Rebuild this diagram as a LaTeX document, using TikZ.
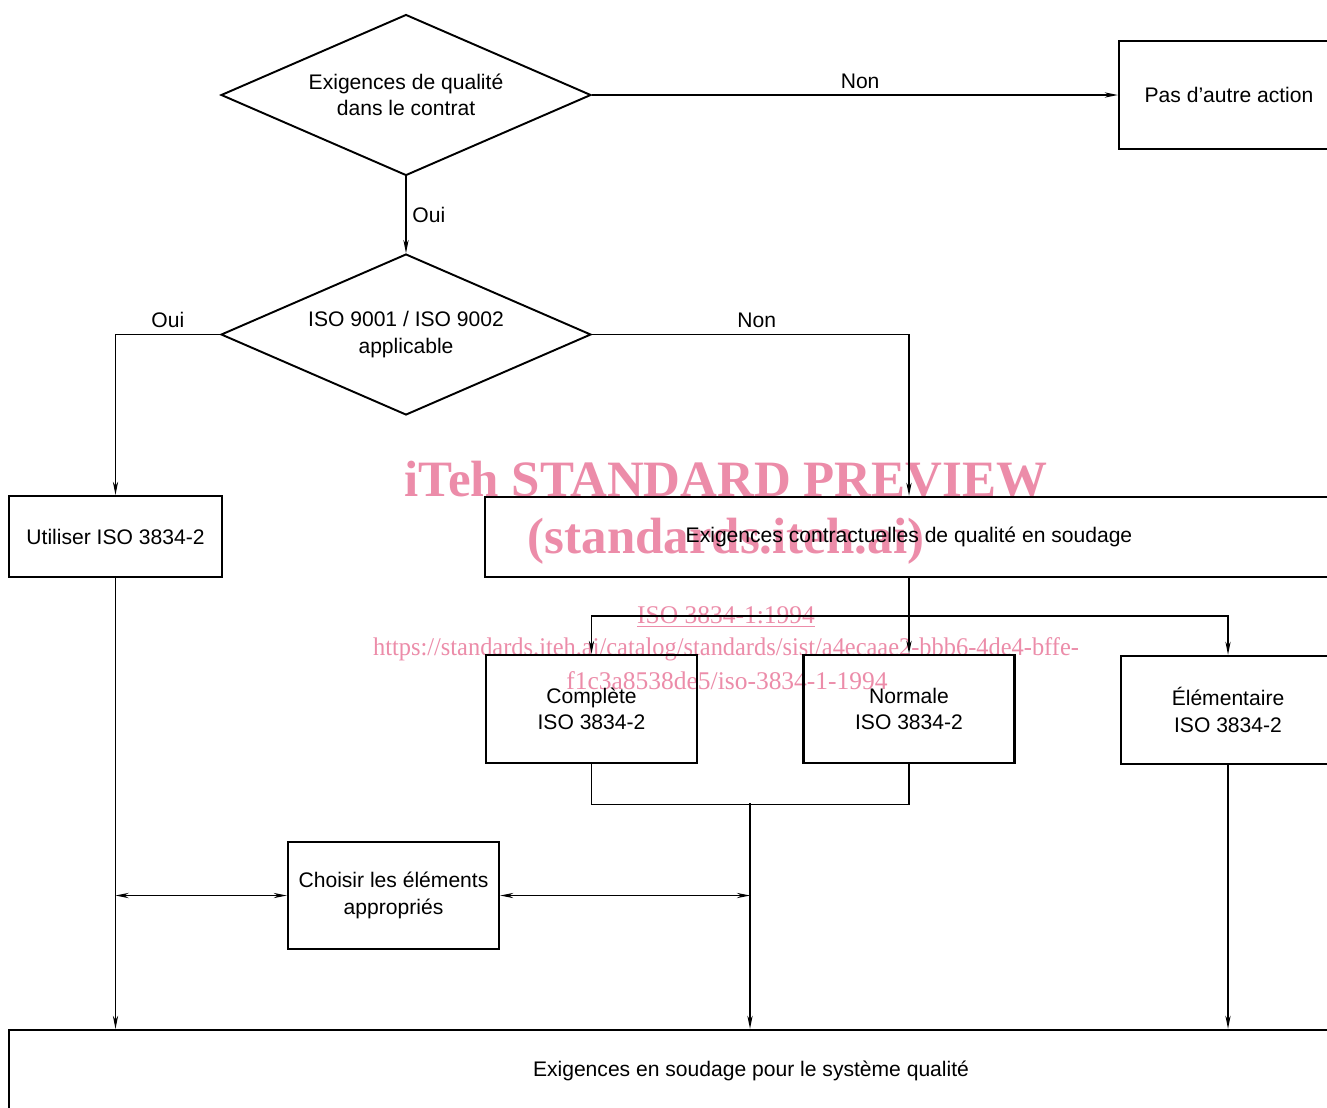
\documentclass[tikz,border=0pt]{standalone}
\usepackage{fontspec}
\setmainfont{Liberation Sans}
\newfontfamily\wmfont{Liberation Serif}
\usepackage{tikz}
\usetikzlibrary{shapes.geometric, arrows.meta, positioning, calc}
\definecolor{wmpink}{HTML}{EC8CA9}

\begin{document}
\begin{tikzpicture}[x=0.02cm, y=-0.02cm,
    font=\fontsize{12}{15}\selectfont,
    >={Stealth[length=7.5pt, width=3pt]},
    decision/.style={diamond, draw, line width=1.1pt, aspect=2.3,
      minimum width=7.4cm, minimum height=3.22cm, inner sep=0pt, align=center},
    block/.style={rectangle, draw, line width=1.4pt,
      minimum width=4.22cm, minimum height=2.16cm, align=center},
    flow/.style={->, line width=0.7pt},
    link/.style={line width=0.7pt},
    watermark/.style={text=wmpink, inner sep=0pt}]
      \path[use as bounding box, fill=white] (0,0) rectangle (1327,1107);
      \clip (0,0) rectangle (1327,1107);

      \node[watermark, font=\wmfont\bfseries\fontsize{29}{29}\selectfont] (wm_1) at (726,479) {iTeh STANDARD PREVIEW};
      \node[watermark, font=\wmfont\bfseries\fontsize{29}{29}\selectfont] (wm_2) at (726,541) {(standards.iteh.ai)};
      \node[watermark, font=\wmfont\fontsize{14.5}{15}\selectfont]       (wm_3) at (726,617) {\underline{ISO 3834-1:1994}};
      \node[watermark, font=\wmfont\fontsize{14.5}{15}\selectfont]       (wm_4) at (726,649) {\scalebox{0.958}[1]{https://standards.iteh.ai/catalog/standards/sist/a4ecaae2-bbb6-4de4-bffe-}};
      \node[watermark, font=\wmfont\fontsize{14.5}{15}\selectfont]       (wm_5) at (727,681) {f1c3a8538de5/iso-3834-1-1994};

      \node[decision]                          (qual)     at (406,95)      {Exigences de qualité\\dans le contrat};
      \node[decision]                          (iso)      at (406,334.5)   {ISO 9001 / ISO 9002\\applicable};
      \node[block, minimum width=4.4cm]        (noact)    at (1229,95)     {Pas d’autre action};
      \node[block, minimum width=4.26cm, minimum height=1.62cm] (use2) at (115.5,536.5) {Utiliser ISO 3834-2};
      \node[block, minimum width=16.96cm, minimum height=1.6cm] (contract) at (909,537) {Exigences contractuelles de qualité en soudage};
      \node[block]                             (full)     at (591.5,709)   {Complète\\ISO 3834-2};
      \node[block]                             (normal)   at (909,709)     {Normale\\ISO 3834-2};
      \node[block, minimum width=4.28cm]       (elem)     at (1228,710)    {Élémentaire\\ISO 3834-2};
      \node[block, minimum height=2.14cm]      (choose)   at (393.5,895.5) {Choisir les éléments\\appropriés};
      \node[block, minimum width=29.68cm, minimum height=1.64cm] (weldsys) at (751,1071) {Exigences en soudage pour le système qualité};

      \coordinate (split) at (909,616);
      \coordinate (join)  at (750,803);

      \path[flow]
        (qual)     edge node[above, pos=0.51] {Non} (noact)
                   edge node[right] {Oui} (iso)
        (contract) edge                   (normal);
      \draw[flow] (iso.west) -| node[above, pos=0.25] {Oui} (use2.north);
      \draw[flow] (iso.east) -| node[above, pos=0.26] {Non} (contract.north);
      \draw[flow] (split) -| (full.north);
      \draw[flow] (split) -| (elem.north);
      \draw[link] (full.south) -- ++(0,40) -| (normal.south);
      \draw[flow] (join) -- (join |- weldsys.north);
      \draw[flow] (use2.south) -- (use2.south |- weldsys.north);
      \draw[flow] (elem.south) -- (elem.south |- weldsys.north);
      \draw[link, <->] (choose.west -| use2.south) -- (choose.west);
      \draw[link, <->] (choose.east) -- (choose.east -| join);
\end{tikzpicture}
\end{document}
